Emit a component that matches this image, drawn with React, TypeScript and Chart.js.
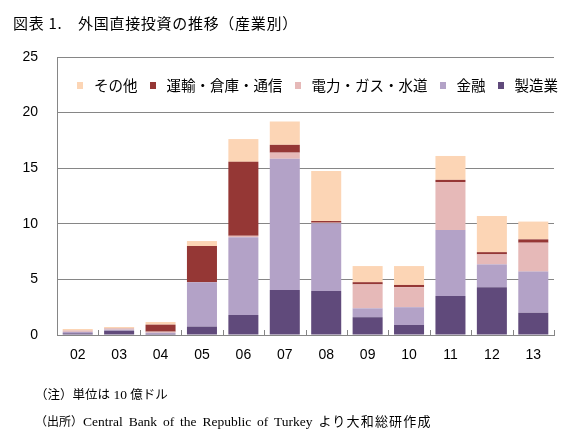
import React, { useEffect, useRef } from 'react';
import { Chart, registerables } from 'chart.js';

Chart.register(...registerables);

const years = ['02', '03', '04', '05', '06', '07', '08', '09', '10', '11', '12', '13'];
const manufacturing = [0.15, 0.38, 0.1, 0.75, 1.8, 4.05, 3.95, 1.6, 0.9, 3.5, 4.3, 2.0];
const finance = [0.13, 0.1, 0.1, 4.0, 7.0, 11.8, 6.1, 0.8, 1.6, 5.95, 2.05, 3.7];
const utilities = [0.12, 0.1, 0.1, 0.0, 0.12, 0.55, 0.05, 2.15, 1.8, 4.3, 0.9, 2.6];
const transport = [0.01, 0.02, 0.63, 3.25, 6.65, 0.7, 0.15, 0.2, 0.2, 0.2, 0.2, 0.3];
const other = [0.13, 0.12, 0.24, 0.45, 2.05, 2.1, 4.5, 1.45, 1.7, 2.15, 3.25, 1.6];
const yTicks = [0, 5, 10, 15, 20, 25];

const seriesNames = ['製造業', '金融', '電力・ガス・水道', '運輸・倉庫・通信', 'その他'];
const seriesColors = ['#604A7B', '#B3A2C7', '#E6B9B8', '#953735', '#FCD5B5'];
const seriesData = [manufacturing, finance, utilities, transport, other];

const GRID = '#868686';

const innerTicks = {
  id: 'innerTicks',
  afterDatasetsDraw(chart: any) {
    const x = chart.scales.x;
    const { ctx, chartArea } = chart;
    const n = x.ticks.length;
    const w = x.getPixelForValue(1) - x.getPixelForValue(0);
    ctx.save();
    ctx.strokeStyle = GRID;
    ctx.lineWidth = 1;
    for (let i = 0; i <= n; i++) {
      const px = Math.round(x.getPixelForValue(i) - w / 2) + 0.5;
      ctx.beginPath();
      ctx.moveTo(px, chartArea.bottom);
      ctx.lineTo(px, chartArea.bottom - 5);
      ctx.stroke();
    }
    ctx.restore();
  },
};

export default function App() {
  const ref = useRef<HTMLCanvasElement | null>(null);

  useEffect(() => {
    if (!ref.current) return;
    const chart = new Chart(ref.current, {
      type: 'bar',
      data: {
        labels: years,
        datasets: seriesData.map((d, i) => ({
          label: seriesNames[i],
          data: d,
          backgroundColor: seriesColors[i],
          borderWidth: 0,
          barPercentage: 0.725,
          categoryPercentage: 1,
        })),
      },
      options: {
        animation: false,
        responsive: false,
        devicePixelRatio: 1,
        layout: { padding: { left: 0, right: 29, top: 57, bottom: 82 } },
        plugins: {
          legend: { display: false },
          tooltip: { enabled: false },
        },
        scales: {
          x: {
            stacked: true,
            grid: { display: false, drawTicks: false },
            border: { display: true, color: GRID, width: 1 },
            ticks: {
              color: '#000',
              padding: 12,
              font: { family: '"Liberation Sans", Arial, sans-serif', size: 14 },
            },
            afterFit: (s: any) => {
              s.height = 30;
            },
          },
          y: {
            stacked: true,
            min: 0,
            max: 25,
            afterBuildTicks: (s: any) => {
              s.ticks = yTicks.map((v) => ({ value: v }));
            },
            grid: { color: GRID, lineWidth: 1, drawTicks: false },
            border: { display: true, color: GRID, width: 1 },
            ticks: {
              color: '#000',
              padding: 19,
              font: { family: '"Liberation Sans", Arial, sans-serif', size: 14 },
            },
            afterFit: (s: any) => {
              s.width = 57;
            },
          },
        },
      },
      plugins: [innerTicks],
    });
    return () => chart.destroy();
  }, []);

  const legendOrder = [4, 3, 2, 1, 0];

  return (
    <div
      style={{
        position: 'fixed',
        left: 0,
        top: 0,
        width: 583,
        height: 447,
        background: '#fff',
        overflow: 'hidden',
      }}
    >
      <canvas
        ref={ref}
        width={583}
        height={447}
        style={{ position: 'absolute', left: 0, top: 0, width: 583, height: 447 }}
      />
      <div
        style={{
          position: 'absolute',
          left: 13,
          top: 15,
          fontFamily: '"Noto Sans CJK JP", sans-serif',
          fontSize: 15,
          lineHeight: '15px',
          letterSpacing: 0.7,
          color: '#000',
          whiteSpace: 'pre',
        }}
      >
        図表 1.　外国直接投資の推移（産業別）
      </div>
      <div
        style={{
          position: 'absolute',
          left: 77,
          top: 77,
          display: 'flex',
          alignItems: 'center',
          fontFamily: '"Noto Sans CJK JP", sans-serif',
          fontSize: 14.5,
          lineHeight: '16px',
          color: '#000',
          whiteSpace: 'pre',
        }}
      >
        {legendOrder.map((i, k) => (
          <div
            key={i}
            style={{ display: 'flex', alignItems: 'center', marginLeft: k === 0 ? 0 : 12 }}
          >
            <span
              style={{ display: 'inline-block', width: 6, height: 7, background: seriesColors[i], marginRight: 11 }}
            />
            <span>{seriesNames[i]}</span>
          </div>
        ))}
      </div>
      <div
        style={{
          position: 'absolute',
          left: 35,
          top: 386,
          fontFamily: '"Liberation Serif", "Noto Sans CJK JP", serif',
          fontSize: 13.5,
          lineHeight: '16px',
          color: '#000',
          whiteSpace: 'pre',
        }}
      >
        <span style={{ fontFamily: '"Noto Sans CJK JP", sans-serif', fontSize: 12.5 }}>（注）単位は</span>
        {' 10 '}
        <span style={{ fontFamily: '"Noto Sans CJK JP", sans-serif', fontSize: 12.5 }}>億ドル</span>
      </div>
      <div
        style={{
          position: 'absolute',
          left: 35,
          top: 413,
          fontFamily: '"Liberation Serif", "Noto Sans CJK JP", serif',
          fontSize: 13.5,
          lineHeight: '16px',
          color: '#000',
          whiteSpace: 'pre',
          wordSpacing: 2.5,
        }}
      >
        <span style={{ fontFamily: '"Noto Sans CJK JP", sans-serif', fontSize: 12 }}>（出所）</span>
        {'Central Bank of the Republic of Turkey '}
        <span style={{ fontFamily: '"Noto Sans CJK JP", sans-serif', fontSize: 13, letterSpacing: 1.2 }}>
          より大和総研作成
        </span>
      </div>
    </div>
  );
}
